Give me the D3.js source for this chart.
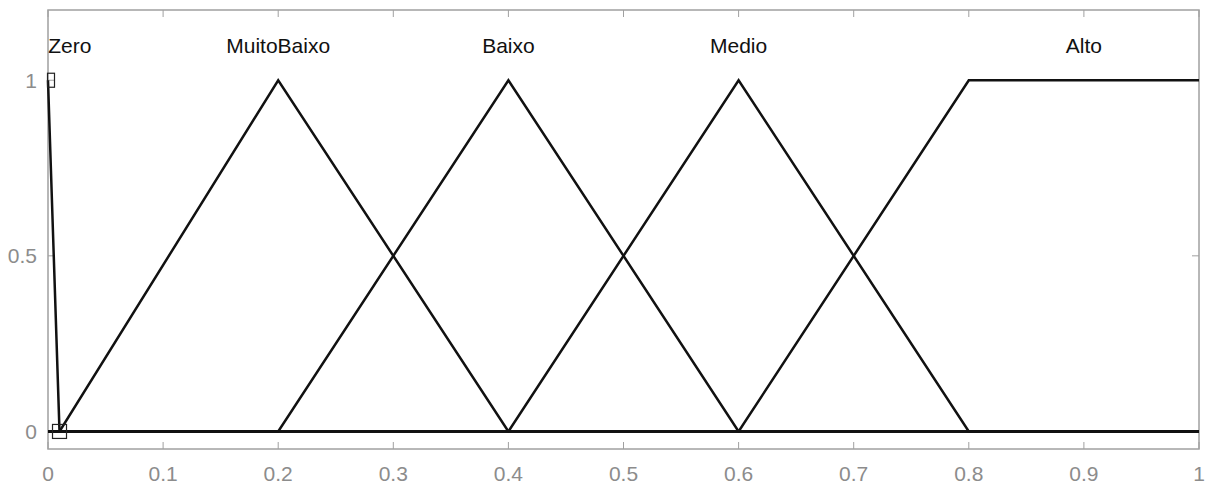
<!DOCTYPE html>
<html>
<head>
<meta charset="utf-8">
<script src="https://cdn.jsdelivr.net/npm/d3@7"></script>
<style>
  html, body { margin: 0; padding: 0; background: #fff; }
  svg { display: block; }
  text { font-family: "Liberation Sans", Arial, sans-serif; }
</style>
</head>
<body>
<svg id="chart" width="1208" height="485"></svg>
<script>
// Membership functions over the universe [0, 1]
const mfNames = ["Zero", "MuitoBaixo", "Baixo", "Medio", "Alto"];
const mfTypes = ["trimf", "trimf", "trimf", "trimf", "trapmf"];
const mfParams = [
  [0, 0, 0.01],
  [0.01, 0.2, 0.4],
  [0.2, 0.4, 0.6],
  [0.4, 0.6, 0.8],
  [0.6, 0.8, 1, 1]
];
const labelX = [0.019, 0.2, 0.4, 0.6, 0.9];
const labelY = 1.1;
const xTicks = [0, 0.1, 0.2, 0.3, 0.4, 0.5, 0.6, 0.7, 0.8, 0.9, 1];
const yTicks = [0, 0.5, 1];

const svg = d3.select("#chart");
const plotLeft = 48, plotRight = 1199, plotTop = 10, plotBottom = 449;

const x = d3.scaleLinear().domain([0, 1]).range([plotLeft, plotRight]);
const y = d3.scaleLinear().domain([-0.05, 1.2]).range([plotBottom, plotTop]);

// Turn parameters into vertices spanning the whole universe
function vertices(type, p) {
  const pts = type === "trimf"
    ? [[p[0], 0], [p[1], 1], [p[2], 0]]
    : [[p[0], 0], [p[1], 1], [p[2], 1], [p[3], 0]];
  // a shoulder at an edge of the universe stays at full membership
  if (pts[0][0] === pts[1][0] && pts[0][0] <= 0) pts.shift();
  const n = pts.length;
  if (pts[n - 1][0] === pts[n - 2][0] && pts[n - 1][0] >= 1) pts.pop();
  const out = [];
  if (pts[0][0] > 0) out.push([0, 0]);
  pts.forEach(d => out.push(d));
  if (pts[pts.length - 1][0] < 1) out.push([1, 0]);
  return out;
}

const axisColor = "#a0a0a0";
const tickColor = "#8c8c8c";
const fontSize = 21;

// Frame
svg.append("rect")
  .attr("x", plotLeft).attr("y", plotTop)
  .attr("width", plotRight - plotLeft).attr("height", plotBottom - plotTop)
  .attr("fill", "none").attr("stroke", axisColor).attr("stroke-width", 1.5);

// Ticks (inside, on all four sides)
const tl = 7;
const g = svg.append("g").attr("stroke", axisColor).attr("stroke-width", 1);
xTicks.forEach(t => {
  g.append("line").attr("x1", x(t)).attr("x2", x(t)).attr("y1", plotBottom).attr("y2", plotBottom - tl);
  g.append("line").attr("x1", x(t)).attr("x2", x(t)).attr("y1", plotTop).attr("y2", plotTop + tl);
});
yTicks.forEach(t => {
  g.append("line").attr("x1", plotLeft).attr("x2", plotLeft + tl).attr("y1", y(t)).attr("y2", y(t));
  g.append("line").attr("x1", plotRight).attr("x2", plotRight - tl).attr("y1", y(t)).attr("y2", y(t));
});

// Tick labels
svg.append("g").selectAll("text").data(xTicks).join("text")
  .attr("x", d => x(d)).attr("y", 481)
  .attr("text-anchor", "middle")
  .attr("font-size", fontSize).attr("fill", tickColor)
  .text(d => d3.format("")(d));

svg.append("g").selectAll("text").data(yTicks).join("text")
  .attr("x", plotLeft - 11).attr("y", d => y(d))
  .attr("dy", "0.36em")
  .attr("text-anchor", "end")
  .attr("font-size", fontSize).attr("fill", tickColor)
  .text(d => d3.format("")(d));

// Curves
const line = d3.line().x(d => x(d[0])).y(d => y(d[1]));
svg.append("g").selectAll("path").data(mfParams.map((p, i) => vertices(mfTypes[i], p))).join("path")
  .attr("d", line)
  .attr("fill", "none")
  .attr("stroke", "#111")
  .attr("stroke-width", 2.5)
  .attr("stroke-linejoin", "miter");

// Small square markers on the narrow "Zero" function
const marks = [[mfParams[0][1], 1, 7, 14], [mfParams[0][2], 0, 14, 14]];
svg.append("g").selectAll("rect").data(marks).join("rect")
  .attr("x", d => x(d[0]) - d[2] / 2 + (d[0] === 0 ? 3 : 0))
  .attr("y", d => y(d[1]) - d[3] / 2)
  .attr("width", d => d[2]).attr("height", d => d[3])
  .attr("fill", "none").attr("stroke", "#222").attr("stroke-width", 1.2);

// Function names
svg.append("g").selectAll("text").data(mfNames).join("text")
  .attr("x", (d, i) => x(labelX[i])).attr("y", y(labelY))
  .attr("dy", "0.36em")
  .attr("text-anchor", "middle")
  .attr("font-size", fontSize).attr("fill", "#111")
  .text(d => d);
</script>
</body>
</html>
